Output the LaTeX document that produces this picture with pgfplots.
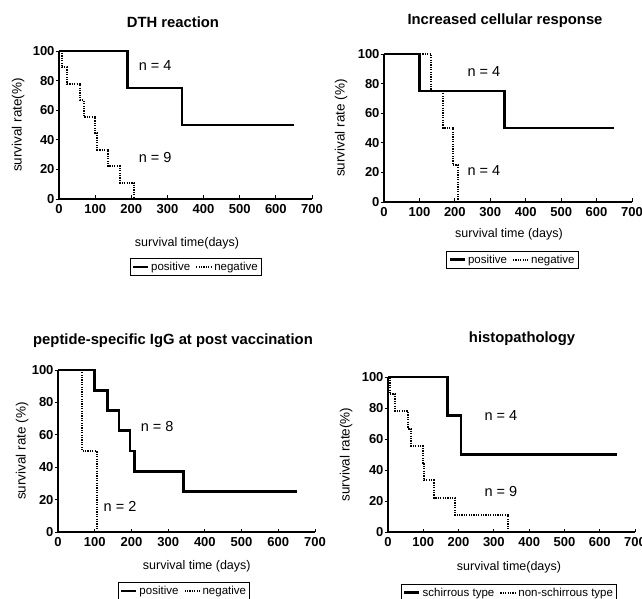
\documentclass[border=0pt]{standalone}
\usepackage{fontspec}
\setmainfont{Liberation Sans}
\usepackage{pgfplots}
\pgfplotsset{compat=1.18}
\pgfplotsset{km/.style={
  scale only axis, clip=false,
  axis x line=bottom, axis y line=left,
  axis line style={-, line width=1.2pt},
  xmin=0, xmax=700, ymin=0, ymax=100,
  xtick={0,100,...,700}, ytick={0,20,...,100},
  tick align=inside, major tick length=3.5pt,
  tick style={black, line width=0.9pt},
  ytick style={xshift=-3.5pt},
  /pgf/number format/assume math mode=true,
  tick label style={font=\fontsize{13}{14}\selectfont\bfseries},
  yticklabel style={xshift=-1pt},
  xticklabel style={yshift=-2pt},
  label style={font=\fontsize{12.5}{13}\selectfont},
  ylabel style={font=\fontsize{13.5}{14}\selectfont},
  legend style={draw=black, line width=0.8pt, font=\fontsize{11.5}{12}\selectfont,
    legend columns=2, anchor=north, inner sep=1.5pt,
    /tikz/every even column/.append style={column sep=3pt}},
  legend image code/.code={\draw[#1] (0pt,0pt) -- (15pt,0pt);},
  pos/.style={black, line width=2.7pt, const plot},
  neg/.style={black, line width=2.1pt, dash pattern=on 1.2pt off 1.2pt, const plot},
}}
\newcommand{\nfont}{\fontsize{14.5}{15}\selectfont}
\newcommand{\tfont}{\fontsize{14.8}{16}\selectfont\bfseries}
\begin{document}
\begin{tikzpicture}[x=1pt,y=1pt]
\useasboundingbox (0,0) rectangle (642,598);

% Panel 1
\begin{axis}[km, at={(59pt,399pt)}, anchor=south west, width=253pt, height=148pt,
  xlabel={survival time(days)}, ylabel={survival rate(\%)},
  xlabel style={at={(axis description cs:0.506,-0.297)}, anchor=center},
  ylabel style={at={(axis description cs:-0.162,0.5)}, anchor=center},
  legend style={at={(axis description cs:0.54,-0.40)}}]
\addplot[pos] coordinates {(0,100) (190,75) (340,50) (650,50)};
\addplot[neg] coordinates {(0,100) (8,88.9) (22,77.8) (58,66.7) (68,55.6) (100,44.4) (106,33.3) (135,22.2) (168,11.1) (208,0)};
\legend{positive, negative}
\node[font=\nfont] at (axis cs:266,90.5) {n = 4};
\node[font=\nfont] at (axis cs:266,28) {n = 9};
\end{axis}

% Panel 2
\begin{axis}[km, at={(384pt,396pt)}, anchor=south west, width=248pt, height=148pt,
  xlabel={survival time (days)}, ylabel={survival rate (\%)},
  xlabel style={at={(axis description cs:0.504,-0.216)}, anchor=center},
  ylabel style={at={(axis description cs:-0.173,0.5)}, anchor=center},
  legend style={at={(axis description cs:0.518,-0.33)}}]
\addplot[pos] coordinates {(0,100) (100,75) (340,50) (650,50)};
\addplot[neg] coordinates {(0,100) (133,75) (167,50) (194,25) (209,0)};
\legend{positive, negative}
\node[font=\nfont] at (axis cs:282,88) {n = 4};
\node[font=\nfont] at (axis cs:282,21.6) {n = 4};
\end{axis}

% Panel 3
\begin{axis}[km, at={(58pt,66pt)}, anchor=south west, width=257pt, height=162pt,
  xlabel={survival time (days)}, ylabel={survival rate (\%)},
  xlabel style={at={(axis description cs:0.54,-0.21)}, anchor=center},
  ylabel style={at={(axis description cs:-0.14,0.5)}, anchor=center},
  legend style={at={(axis description cs:0.49,-0.31)}}]
\addplot[pos] coordinates {(0,100) (100,87.5) (134,75) (166,62.5) (196,50) (209,37.5) (342,25) (652,25)};
\addplot[neg] coordinates {(0,100) (66,50) (105,0)};
\legend{positive, negative}
\node[font=\nfont] at (axis cs:270,65) {n = 8};
\node[font=\nfont] at (axis cs:169,16) {n = 2};
\end{axis}

% Panel 4
\begin{axis}[km, at={(388pt,66pt)}, anchor=south west, width=247pt, height=155pt,
  xlabel={survival time(days)}, ylabel={survival rate(\%)},
  xlabel style={at={(axis description cs:0.49,-0.226)}, anchor=center},
  ylabel style={at={(axis description cs:-0.17,0.5)}, anchor=center},
  legend style={at={(axis description cs:0.49,-0.335)}}]
\addplot[pos] coordinates {(0,100) (168,75) (207,50) (650,50)};
\addplot[neg] coordinates {(0,100) (5,88.9) (21,77.8) (57,66.7) (65,55.6) (98,44.4) (102,33.3) (130,22.2) (189,11.1) (340,0)};
\legend{schirrous type, non-schirrous type}
\node[font=\nfont] at (axis cs:320,75) {n = 4};
\node[font=\nfont] at (axis cs:320,26) {n = 9};
\end{axis}

% Titles
\node[font=\tfont] at (173,576) {DTH reaction};
\node[font=\tfont] at (505,577) {Increased cellular response};
\node[font=\tfont] at (173,257) {peptide-specific IgG at post vaccination};
\node[font=\tfont] at (522,259) {histopathology};
\end{tikzpicture}
\end{document}
